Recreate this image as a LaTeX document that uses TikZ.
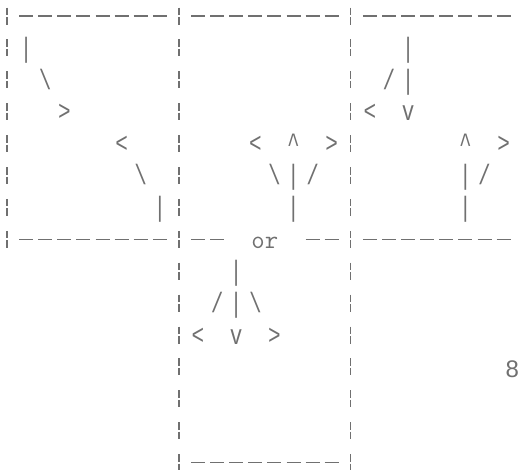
\documentclass[tikz,border=0pt]{standalone}
\usepackage{fontspec}
\setsansfont{Liberation Sans}
\newfontfamily\glyphfont[FakeStretch=0.75]{Liberation Mono}
\usetikzlibrary{calc}
\definecolor{inkGray}{RGB}{112,112,112}

\begin{document}
\begin{tikzpicture}[x=19.1pt, y=-31.9pt,
  glyph/.style={font=\glyphfont\fontsize{28}{28}\selectfont, text=inkGray,
                inner sep=0pt, anchor=base},
  rule/.style={draw=inkGray, line width=1.3pt, dash pattern=on 14pt off 5.1pt},
  bar/.style={draw=inkGray, line width=1.3pt,
              dash pattern=on 7.5pt off 2pt on 7.5pt off 14.9pt}]
  \useasboundingbox (-0.3665,-0.5016) rectangle (26.963,14.2006);
  \def\hd{0.3665}
  \def\hb{0.2665}

  % frames
  \draw[rule] (1-\hd,0) -- (8+\hd,0);
  \draw[rule] (10-\hd,0) -- (17+\hd,0);
  \draw[rule] (19-\hd,0) -- (26+\hd,0);
  \draw[rule] (1-\hd,7) -- (8+\hd,7);
  \draw[rule] (10-\hd,7) -- (11+\hd,7);
  \draw[rule] (16-\hd,7) -- (17+\hd,7);
  \draw[rule] (19-\hd,7) -- (26+\hd,7);
  \draw[rule] (10-\hd,14) -- (17+\hd,14);
  \draw[bar] (0,0-\hb) -- (0,7+\hb);
  \draw[bar] (9,0-\hb) -- (9,14+\hb);
  \draw[bar] (18,0-\hb) -- (18,14+\hb);

  % glyphs
  \foreach \c/\r/\g in {1/1/|, 2/2/\textbackslash, 3/3/>, 6/4/<, 7/5/\textbackslash, 8/6/|,
      13/4/<, 15/4/\textasciicircum, 17/4/>, 14/5/\textbackslash, 15/5/|, 16/5/\slash, 15/6/|,
      21/1/|, 20/2/\slash, 21/2/|, 19/3/<, 21/3/v, 24/4/\textasciicircum, 26/4/>,
      24/5/|, 25/5/\slash, 24/6/|,
      12/8/|, 11/9/\slash, 12/9/|, 13/9/\textbackslash, 10/10/<, 12/10/v, 14/10/>}
    \node[glyph] (g-\c-\r) at (\c,\r+0.29) {\g};

  \node[glyph, font=\ttfamily\fontsize{26}{26}\selectfont] (or) at (13.5,7.28) {or};
  \node[inner sep=0pt, anchor=base west, text=inkGray,
        font=\sffamily\fontsize{24}{24}\selectfont] (pagenum) at (26.1,11.317) {8};
\end{tikzpicture}
\end{document}
